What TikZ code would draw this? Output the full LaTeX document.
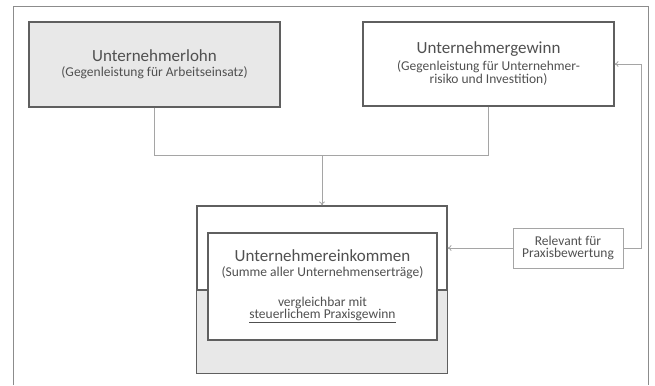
\documentclass[tikz,border=0pt]{standalone}
\usepackage{fontspec}
\setmainfont{Carlito}
\usetikzlibrary{positioning,arrows.meta}
\definecolor{boxline}{RGB}{95,95,95}
\definecolor{conline}{RGB}{165,165,165}
\definecolor{txtgray}{RGB}{80,80,80}
\definecolor{lohnfill}{RGB}{232,232,232}
\newcommand{\titel}[1]{{\fontsize{17}{20}\selectfont #1}}
\newcommand{\unter}[1]{{\fontsize{13.5}{16}\selectfont #1}}
\tikzset{hauptbox/.style={draw=boxline, line width=1.1pt, text=txtgray, align=center, inner sep=0pt},
	verbinder/.style={draw=conline, line width=0.8pt},
	pfeil/.style={verbinder, -{To[length=4pt,width=6pt]}}}

\begin{document}
\begin{tikzpicture}[x=1pt,y=-1pt]
	\useasboundingbox (0,0) rectangle (655,385);
	\draw[conline!85!black, line width=1pt] (13,385) -- (13,7) -- (648,7) -- (648,385);

	\node[hauptbox, fill=lohnfill, minimum width=251pt, minimum height=85pt] (lohn) at (154.5,64.5)
		{\titel{Unternehmerlohn}\\[3pt]\unter{(Gegenleistung für Arbeitseinsatz)}};
	\node[hauptbox, minimum width=251pt, minimum height=84pt] (gewinn) at (488.5,64)
		{\titel{Unternehmergewinn}\\[3pt]\unter{(Gegenleistung für Unternehmer-}\\\unter{risiko und Investition)}};

	% unterer Kasten mit grauem Sockel
	\node[hauptbox, minimum width=250pt, minimum height=167pt] (einkommen) at (322,289.5) {};
	\draw[boxline, line width=1.1pt, fill=lohnfill] (einkommen.west |- 0,290) rectangle (einkommen.south east);
	\node[hauptbox, fill=white, minimum width=229pt, minimum height=107pt] (summe) at (322.5,286.5)
		{\titel{Unternehmereinkommen}\\[3pt]\unter{(Summe aller Unternehmenserträge)}\\[18pt]
		\unter{vergleichbar mit}\\\unter{\underline{steuerlichem Praxisgewinn}}};

	\node[draw=conline, line width=0.8pt, text=txtgray, align=center, inner sep=0pt,
		minimum width=110pt, minimum height=40pt] (relevant) at (568,248)
		{\unter{Relevant für}\\\unter{Praxisbewertung}};

	% Verbindungen
	\coordinate (knoten) at (322,155);
	\draw[verbinder] (lohn.south) |- (knoten);
	\draw[verbinder] (gewinn.south) |- (knoten);
	\draw[pfeil] (knoten) -- (einkommen.north);
	\draw[pfeil] (relevant.west) -- (relevant.west -| einkommen.east);
	\draw[pfeil] (relevant.east) -- ++(18,0) |- (gewinn.east);
\end{tikzpicture}
\end{document}
